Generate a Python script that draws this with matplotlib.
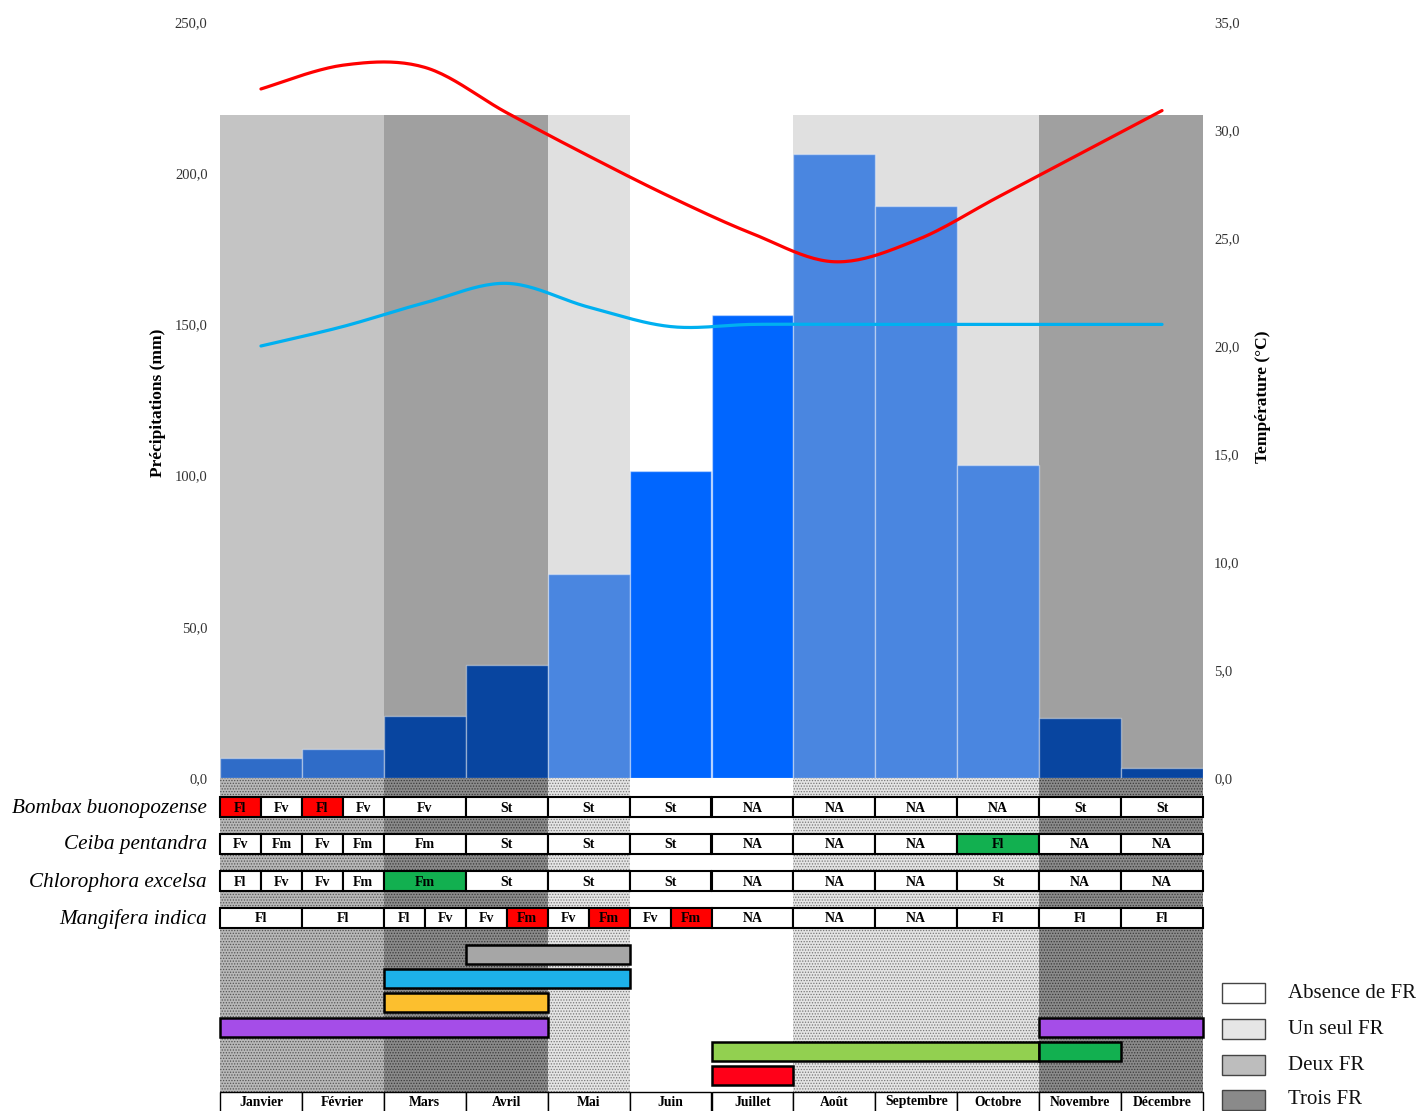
import numpy as np
import matplotlib
matplotlib.use('Agg')
import matplotlib.pyplot as plt
from matplotlib.patches import Rectangle

plt.rcParams['font.family'] = ['Liberation Serif', 'DejaVu Serif']
plt.rcParams['hatch.linewidth'] = 0.6

# donnees
months = ['Janvier', 'Février', 'Mars', 'Avril', 'Mai', 'Juin', 'Juillet',
          'Août', 'Septembre', 'Octobre', 'Novembre', 'Décembre']
precip = [6.6, 9.6, 20.5, 37.4, 67.5, 101.5, 153.1, 206.3, 189.2, 103.5, 19.8, 3.3]
temp_max = [31.9, 33.0, 32.9, 30.8, 28.8, 26.9, 25.2, 23.9, 24.9, 26.9, 28.9, 30.9]
temp_min = [20.0, 20.9, 22.0, 22.9, 21.8, 20.9, 21.0, 21.0, 21.0, 21.0, 21.0, 21.0]
fr_count = [2, 2, 3, 3, 1, 0, 0, 1, 1, 1, 3, 3]   # nombre de FR par mois

species = ['Bombax buonopozense', 'Ceiba pentandra', 'Chlorophora excelsa', 'Mangifera indica']
bombax = ['Fl/Fv', 'Fl/Fv', 'Fv', 'St', 'St', 'St', 'NA', 'NA', 'NA', 'NA', 'St', 'St']
ceiba = ['Fv/Fm', 'Fv/Fm', 'Fm', 'St', 'St', 'St', 'NA', 'NA', 'NA', 'Fl', 'NA', 'NA']
chloro = ['Fl/Fv', 'Fv/Fm', 'Fm', 'St', 'St', 'St', 'NA', 'NA', 'NA', 'St', 'NA', 'NA']
mangifera = ['Fl', 'Fl', 'Fl/Fv', 'Fv/Fm', 'Fv/Fm', 'Fv/Fm', 'NA', 'NA', 'NA', 'Fl', 'Fl', 'Fl']
pheno = [bombax, ceiba, chloro, mangifera]
red_cells = [(0, 0, 0), (0, 1, 0), (3, 3, 1), (3, 4, 1), (3, 5, 1)]   # (espece, mois, moitie)
green_cells = [(1, 9, 0), (2, 2, 0)]

# periodes (mois debut, mois fin) par ligne
periods = [[(3, 5)], [(2, 5)], [(2, 4)], [(0, 4), (10, 12)], [(6, 10), (10, 11)], [(6, 7)]]
period_colors = [['#a6a6a6'], ['#1db1e9'], ['#fcbf2e'], ['#a54de8', '#a54de8'],
                 ['#92d050', '#12b050'], ['#ff0018']]

legend_labels = ['Absence de FR', 'Un seul FR', 'Deux FR', 'Trois FR']

# styles
bar_colors = ['#2f6cc8', '#2f6cc8', '#0845a0', '#0845a0', '#4a86e0', '#0066ff',
              '#0066ff', '#4a86e0', '#4a86e0', '#4a86e0', '#0845a0', '#0845a0']
shade = {0: 'white', 1: '#e0e0e0', 2: '#c4c4c4', 3: '#a0a0a0'}
stip_face = {0: 'white', 1: '#e4e4e4', 2: '#b8b8b8', 3: '#8a8a8a'}
stip_dots = {0: 'white', 1: '#777777', 2: '#555555', 3: '#3a3a3a'}
legend_colors = ['white', '#e6e6e6', '#bdbdbd', '#8a8a8a']
SHADE_TOP = 219.3

W, H = 1419, 1111
fig = plt.figure(figsize=(W / 100, H / 100), dpi=100)


def px_axes(x0, y0, x1, y1):
    return fig.add_axes([x0 / W, 1 - y1 / H, (x1 - x0) / W, (y1 - y0) / H])


def smooth(x, y, n=25):
    # lissage type Excel (bezier / catmull-rom)
    p = np.column_stack([x, y])
    p = np.vstack([p[0], p, p[-1]])
    segs = []
    t = np.linspace(0, 1, n)[:, None]
    for i in range(1, len(p) - 2):
        p0, p1, p2, p3 = p[i - 1], p[i], p[i + 1], p[i + 2]
        c1 = p1 + (p2 - p0) / 6
        c2 = p2 - (p3 - p1) / 6
        segs.append((1 - t) ** 3 * p1 + 3 * (1 - t) ** 2 * t * c1 + 3 * (1 - t) * t ** 2 * c2 + t ** 3 * p2)
    s = np.vstack(segs)
    return s[:, 0], s[:, 1]


fmt = lambda v, pos: ('%.1f' % v).replace('.', ',')

# graphique principal
ax = px_axes(220, 22, 1203, 778)
xc = np.arange(12) + 0.5
ax.bar(xc, [SHADE_TOP] * 12, width=1, color=[shade[c] for c in fr_count], linewidth=0)
ax.bar(xc, precip, width=1, color=bar_colors, edgecolor=(1, 1, 1, 0.4), linewidth=1)
ax.set_xlim(0, 12)
ax.set_ylim(0, 250)
ax.set_yticks(np.arange(0, 251, 50))
ax.yaxis.set_major_formatter(fmt)
ax.set_xticks([])
ax.tick_params(axis='y', length=0, pad=9, labelsize=10.5, labelcolor='#333333')
for s in ax.spines.values():
    s.set_visible(False)

ax2 = ax.twinx()
ax2.set_ylim(0, 35)
ax2.set_yticks(np.arange(0, 36, 5))
ax2.yaxis.set_major_formatter(fmt)
ax2.tick_params(axis='y', length=0, pad=8, labelsize=10.5, labelcolor='#333333')
for s in ax2.spines.values():
    s.set_visible(False)
sx, sy = smooth(xc, temp_max)
ax2.plot(sx, sy, color='#ff0000', lw=2.3, solid_capstyle='round')
sx, sy = smooth(xc, temp_min)
ax2.plot(sx, sy, color='#00b0f0', lw=2.3, solid_capstyle='round')

fig.text(158 / W, 1 - 403 / H, 'Précipitations (mm)', rotation=90, ha='center', va='center',
         fontsize=12.5, fontweight='bold')
fig.text(1263 / W, 1 - 397 / H, 'Température (°C)', rotation=90, ha='center', va='center',
         fontsize=12.5, fontweight='bold')

# partie basse : phenologie
axb = px_axes(220, 778, 1203, 1111)
axb.set_xlim(0, 12)
axb.set_ylim(333, 0)
axb.axis('off')

for m, c in enumerate(fr_count):
    axb.add_patch(Rectangle((m, 0), 1, 314, facecolor=stip_face[c], edgecolor=stip_dots[c],
                            hatch='......' if c else None, linewidth=0))

row_top = [19, 56, 93, 130]
row_h = 20
for i, sp in enumerate(species):
    y0 = row_top[i]
    fig.text(207 / W, 1 - (778 + y0 + row_h / 2 + 1) / H, sp, ha='right', va='center',
             fontsize=15.2, style='italic')
    for m, cell in enumerate(pheno[i]):
        parts = cell.split('/')
        w = 1 / len(parts)
        for k, lab in enumerate(parts):
            fc = 'white'
            if (i, m, k) in red_cells:
                fc = '#ff0000'
            if (i, m, k) in green_cells:
                fc = '#12b050'
            axb.add_patch(Rectangle((m + k * w, y0), w, row_h, facecolor=fc, edgecolor='black',
                                    linewidth=1.5, clip_on=False))
            axb.text(m + (k + 0.5) * w, y0 + row_h / 2 + 1, lab, ha='center', va='center',
                     fontsize=10, fontweight='bold')

gantt_top = [167, 191, 215, 240, 264, 288]
for r, per in enumerate(periods):
    for (a, b), col in zip(per, period_colors[r]):
        axb.add_patch(Rectangle((a, gantt_top[r]), b - a, 19, facecolor=col, edgecolor='black',
                                linewidth=1.8, clip_on=False))

for m, name in enumerate(months):
    axb.add_patch(Rectangle((m, 314), 1, 25, facecolor='white', edgecolor='black',
                            linewidth=1, clip_on=False))
    axb.text(m + 0.5, 324, name, ha='center', va='center', fontsize=9.8, fontweight='bold')

# legende
leg_y = [983, 1019, 1055, 1090]
for lab, col, y in zip(legend_labels, legend_colors, leg_y):
    fig.patches.append(Rectangle((1222 / W, 1 - (y + 20) / H), 43 / W, 20 / H, facecolor=col,
                                 edgecolor='#444444', linewidth=1, transform=fig.transFigure))
    fig.text(1288 / W, 1 - (y + 10) / H, lab, ha='left', va='center', fontsize=15, color='#111111')

fig.savefig('out.png', dpi=100)
